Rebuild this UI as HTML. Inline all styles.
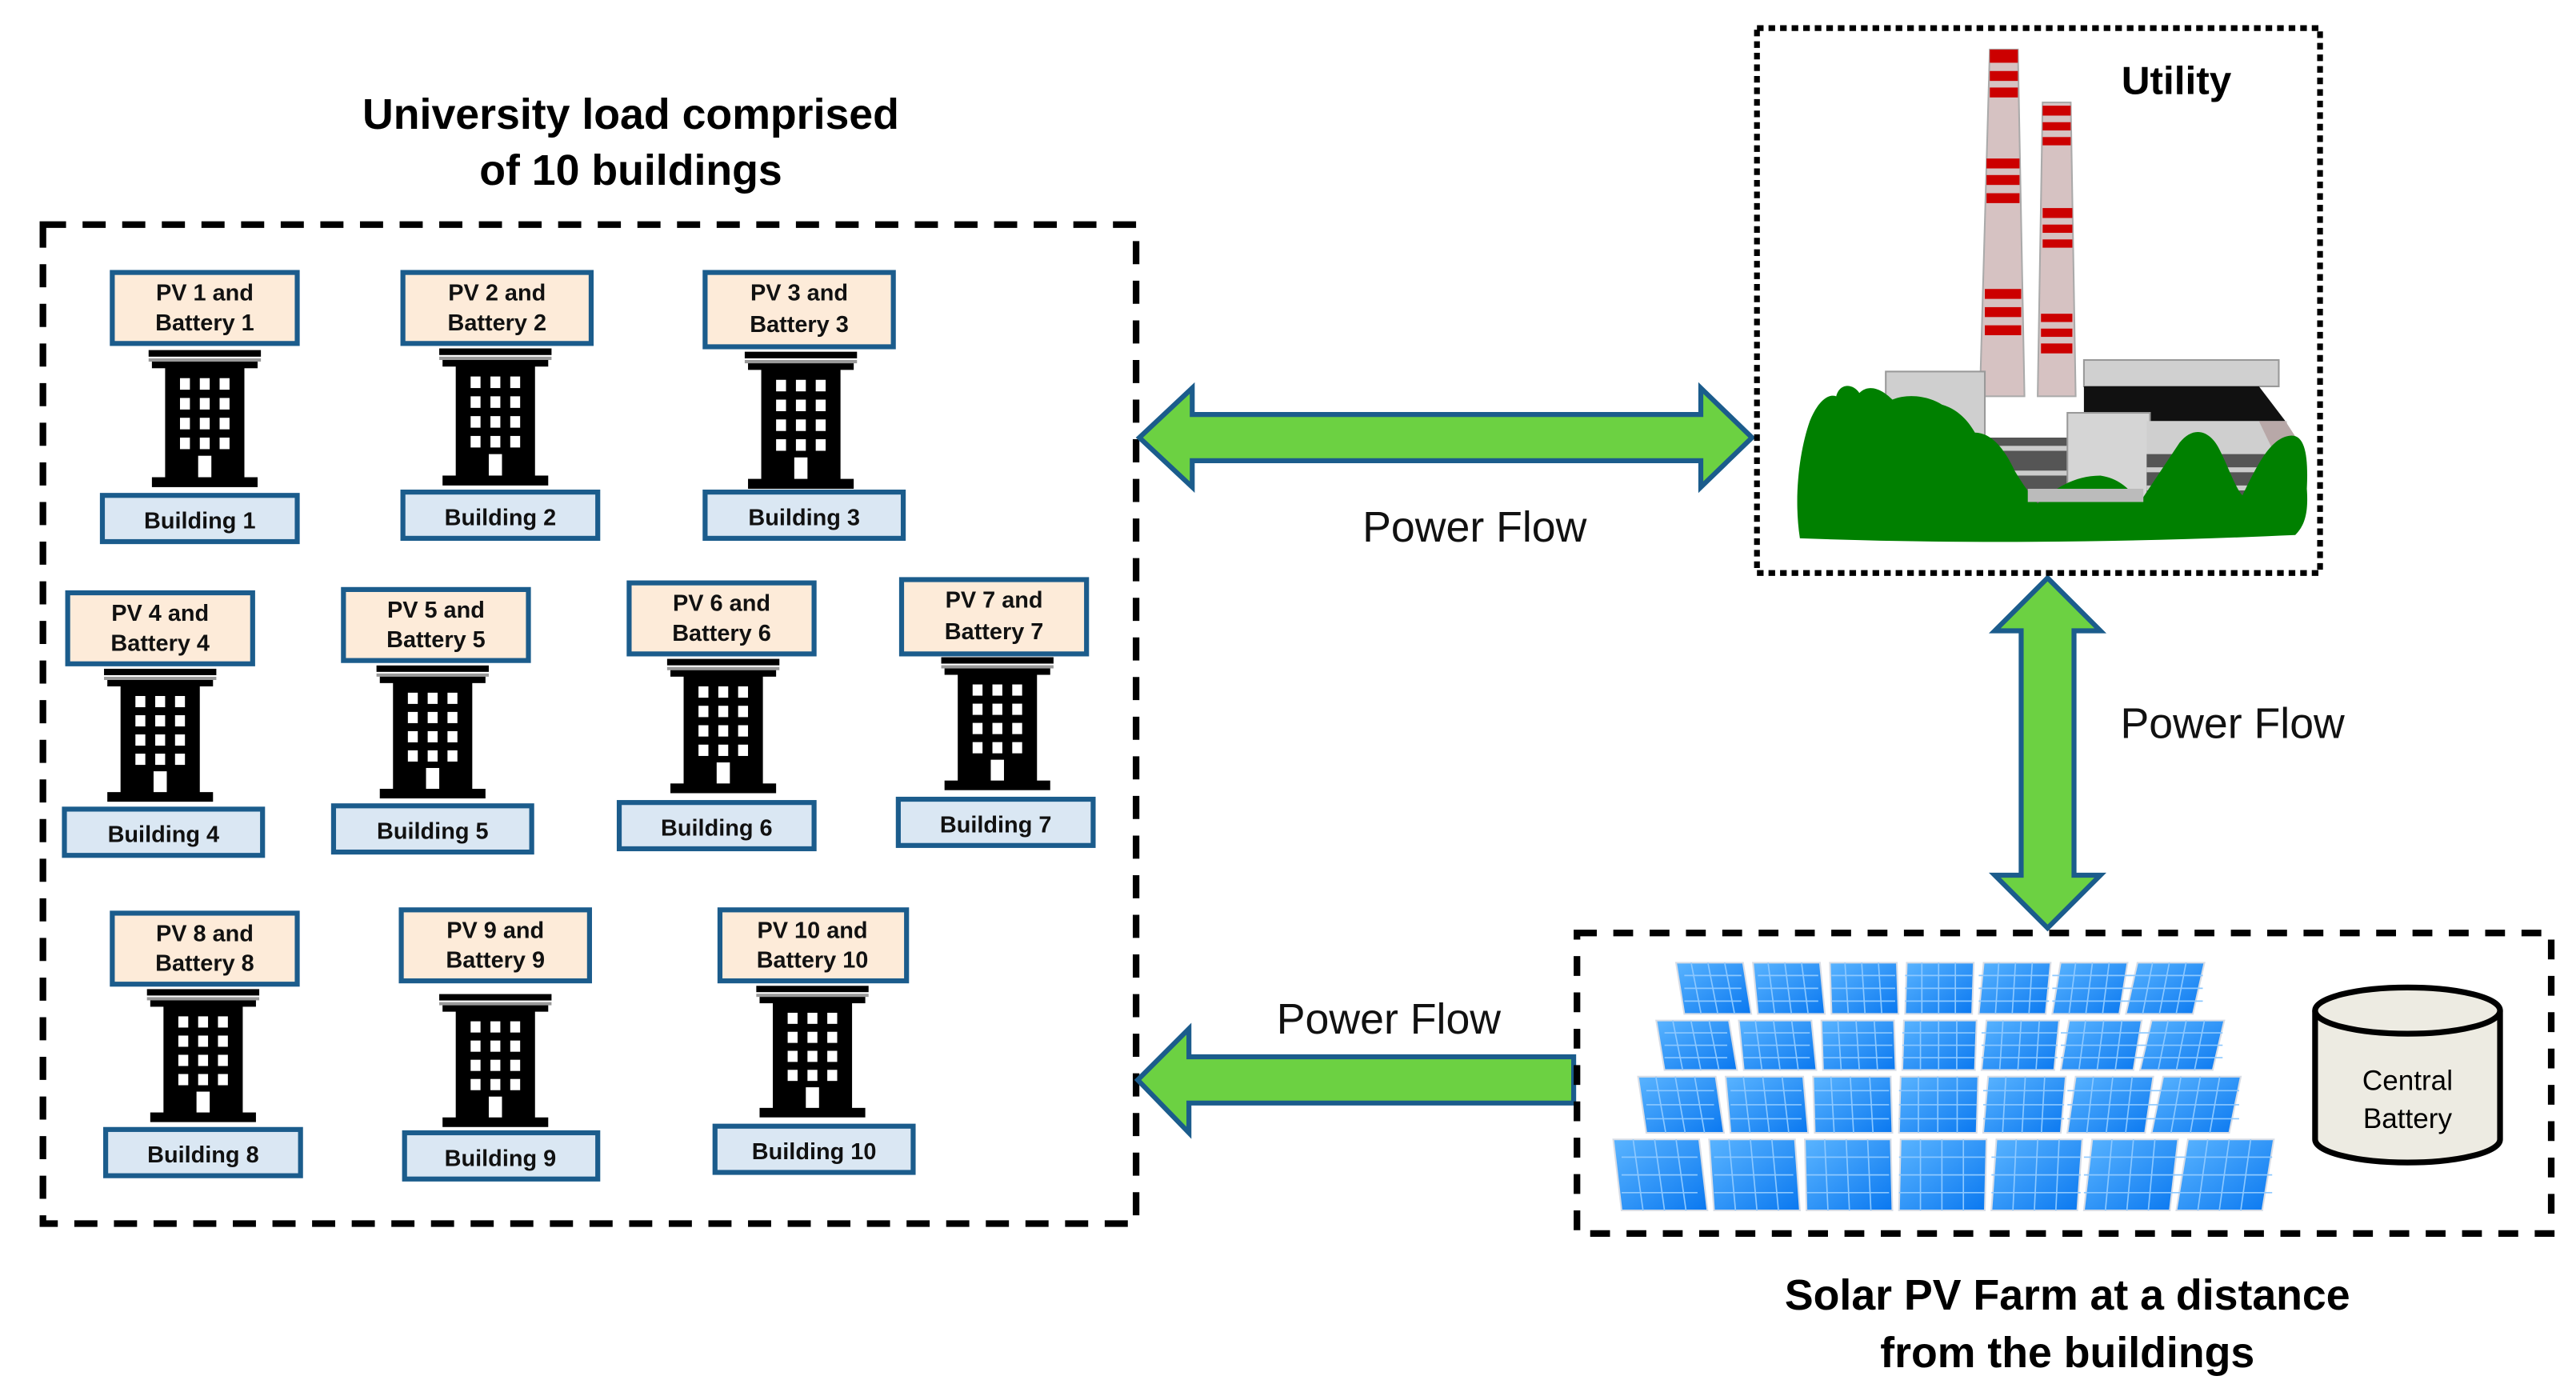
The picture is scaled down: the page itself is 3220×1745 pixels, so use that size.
<!DOCTYPE html>
<html><head><meta charset="utf-8"><style>
html,body{margin:0;padding:0;background:#fff}
svg{display:block}
text{font-family:"Liberation Sans",Arial,sans-serif}
</style></head><body>
<svg width="3220" height="1745" viewBox="0 0 1560 845.4" xmlns="http://www.w3.org/2000/svg">
<defs>
<g id="bld">
<rect x="0" y="0" width="68" height="4" fill="#000"/>
<rect x="0" y="5" width="68" height="2" fill="#999"/>
<rect x="2" y="7" width="64" height="4" fill="#000"/>
<rect x="10" y="10" width="48" height="70" fill="#000"/>
<rect x="2" y="77" width="64" height="6" fill="#000"/>
<g fill="#fff">
<rect x="19" y="17" width="6" height="7"/><rect x="31" y="17" width="6" height="7"/><rect x="43" y="17" width="6" height="7"/>
<rect x="19" y="29" width="6" height="7"/><rect x="31" y="29" width="6" height="7"/><rect x="43" y="29" width="6" height="7"/>
<rect x="19" y="41" width="6" height="7"/><rect x="31" y="41" width="6" height="7"/><rect x="43" y="41" width="6" height="7"/>
<rect x="19" y="53" width="6" height="7"/><rect x="31" y="53" width="6" height="7"/><rect x="43" y="53" width="6" height="7"/>
<rect x="30" y="64" width="8" height="13"/>
</g>
</g>
</defs>

<text x="382" y="78" font-size="26" font-weight="bold" text-anchor="middle">University load comprised</text>
<text x="382" y="112" font-size="26" font-weight="bold" text-anchor="middle">of 10 buildings</text>
<rect x="26" y="136" width="662" height="605" fill="none" stroke="#000" stroke-width="4" stroke-dasharray="14,10"/>

<g font-size="14" font-weight="bold" text-anchor="middle" fill="#111">
<rect x="68" y="165" width="112" height="43" fill="#fdebd9" stroke="#1b5c8c" stroke-width="3"/>
<text x="124" y="182">PV 1 and</text><text x="124" y="200">Battery 1</text>
<use href="#bld" transform="translate(90,212)"/>
<rect x="62" y="300" width="118" height="28" fill="#dae7f3" stroke="#1b5c8c" stroke-width="3"/>
<text x="121" y="320">Building 1</text>
<rect x="244" y="165" width="114" height="43" fill="#fdebd9" stroke="#1b5c8c" stroke-width="3"/>
<text x="301" y="182">PV 2 and</text><text x="301" y="200">Battery 2</text>
<use href="#bld" transform="translate(266,211)"/>
<rect x="244" y="298" width="118" height="28" fill="#dae7f3" stroke="#1b5c8c" stroke-width="3"/>
<text x="303" y="318">Building 2</text>
<rect x="427" y="165" width="114" height="45" fill="#fdebd9" stroke="#1b5c8c" stroke-width="3"/>
<text x="484" y="182">PV 3 and</text><text x="484" y="201">Battery 3</text>
<use href="#bld" transform="translate(451,213)"/>
<rect x="427" y="298" width="120" height="28" fill="#dae7f3" stroke="#1b5c8c" stroke-width="3"/>
<text x="487" y="318">Building 3</text>
<rect x="41" y="359" width="112" height="43" fill="#fdebd9" stroke="#1b5c8c" stroke-width="3"/>
<text x="97" y="376">PV 4 and</text><text x="97" y="394">Battery 4</text>
<use href="#bld" transform="translate(63,405) scale(1,0.97)"/>
<rect x="39" y="490" width="120" height="28" fill="#dae7f3" stroke="#1b5c8c" stroke-width="3"/>
<text x="99" y="510">Building 4</text>
<rect x="208" y="357" width="112" height="43" fill="#fdebd9" stroke="#1b5c8c" stroke-width="3"/>
<text x="264" y="374">PV 5 and</text><text x="264" y="392">Battery 5</text>
<use href="#bld" transform="translate(228,403) scale(1,0.97)"/>
<rect x="202" y="488" width="120" height="28" fill="#dae7f3" stroke="#1b5c8c" stroke-width="3"/>
<text x="262" y="508">Building 5</text>
<rect x="381" y="353" width="112" height="43" fill="#fdebd9" stroke="#1b5c8c" stroke-width="3"/>
<text x="437" y="370">PV 6 and</text><text x="437" y="388">Battery 6</text>
<use href="#bld" transform="translate(404,399) scale(1,0.98)"/>
<rect x="375" y="486" width="118" height="28" fill="#dae7f3" stroke="#1b5c8c" stroke-width="3"/>
<text x="434" y="506">Building 6</text>
<rect x="546" y="351" width="112" height="45" fill="#fdebd9" stroke="#1b5c8c" stroke-width="3"/>
<text x="602" y="368">PV 7 and</text><text x="602" y="387">Battery 7</text>
<use href="#bld" transform="translate(570,398) scale(1,0.97)"/>
<rect x="544" y="484" width="118" height="28" fill="#dae7f3" stroke="#1b5c8c" stroke-width="3"/>
<text x="603" y="504">Building 7</text>
<rect x="68" y="553" width="112" height="43" fill="#fdebd9" stroke="#1b5c8c" stroke-width="3"/>
<text x="124" y="570">PV 8 and</text><text x="124" y="588">Battery 8</text>
<use href="#bld" transform="translate(89,599) scale(1,0.97)"/>
<rect x="64" y="684" width="118" height="28" fill="#dae7f3" stroke="#1b5c8c" stroke-width="3"/>
<text x="123" y="704">Building 8</text>
<rect x="243" y="551" width="114" height="43" fill="#fdebd9" stroke="#1b5c8c" stroke-width="3"/>
<text x="300" y="568">PV 9 and</text><text x="300" y="586">Battery 9</text>
<use href="#bld" transform="translate(266,602) scale(1,0.97)"/>
<rect x="245" y="686" width="117" height="28" fill="#dae7f3" stroke="#1b5c8c" stroke-width="3"/>
<text x="303" y="706">Building 9</text>
<rect x="436" y="551" width="113" height="43" fill="#fdebd9" stroke="#1b5c8c" stroke-width="3"/>
<text x="492" y="568">PV 10 and</text><text x="492" y="586">Battery 10</text>
<use href="#bld" transform="translate(458,597) scale(1,0.96)"/>
<rect x="433" y="682" width="120" height="28" fill="#dae7f3" stroke="#1b5c8c" stroke-width="3"/>
<text x="493" y="702">Building 10</text>
</g>

<g fill="#6cd142" stroke="#1b5c8c" stroke-width="3" stroke-linejoin="miter">
<polygon points="690,265 722,235 722,251 1030,251 1030,235 1061,265 1030,295 1030,279 722,279 722,295"/>
<polygon points="1240,350 1272,382 1256,382 1256,530 1272,530 1240,562 1208,530 1224,530 1224,382 1208,382"/>
<polygon points="689,654 720,623 720,640 953,640 953,668 720,668 720,686"/>
</g>
<g font-size="26" fill="#111">
<text x="893" y="328" text-anchor="middle">Power Flow</text>
<text x="1352" y="447" text-anchor="middle">Power Flow</text>
<text x="841" y="626" text-anchor="middle">Power Flow</text>
</g>

<rect x="1064" y="17" width="341" height="330" fill="none" stroke="#000" stroke-width="3.5" stroke-dasharray="4,3"/>
<text x="1318" y="57" font-size="24" font-weight="bold" text-anchor="middle">Utility</text>
<polygon points="1205,30 1222,30 1226,240 1199,240" fill="#d6c2c2" stroke="#aaa" stroke-width="1"/>
<polygon points="1237,62 1254,62 1257,240 1234,240" fill="#d6c2c2" stroke="#aaa" stroke-width="1"/>
<g fill="#cc0000">
<rect x="1205" y="30" width="17" height="8"/><rect x="1205" y="43" width="17" height="6"/><rect x="1205" y="53" width="17" height="6"/>
<rect x="1203" y="96" width="20" height="6"/><rect x="1203" y="106" width="20" height="6"/><rect x="1203" y="117" width="20" height="6"/>
<rect x="1202" y="175" width="22" height="6"/><rect x="1202" y="186" width="22" height="6"/><rect x="1202" y="197" width="22" height="6"/>
<rect x="1237" y="64" width="17" height="6"/><rect x="1237" y="74" width="17" height="5"/><rect x="1237" y="83" width="17" height="5"/>
<rect x="1237" y="126" width="18" height="6"/><rect x="1237" y="136" width="18" height="5"/><rect x="1237" y="145" width="18" height="5"/>
<rect x="1236" y="190" width="19" height="5"/><rect x="1236" y="199" width="19" height="5"/><rect x="1236" y="208" width="19" height="6"/>
</g>
<rect x="1142" y="225" width="60" height="50" fill="#cfcfcf" stroke="#999"/>
<rect x="1176" y="265" width="90" height="40" fill="#555"/>
<rect x="1176" y="270" width="90" height="3" fill="#ccc"/><rect x="1176" y="285" width="90" height="3" fill="#ccc"/>
<rect x="1262" y="218" width="118" height="16" fill="#d0d0d0" stroke="#999"/>
<polygon points="1262,234 1368,234 1384,255 1262,255" fill="#111"/>
<rect x="1252" y="250" width="50" height="70" fill="#d5d5d5" stroke="#999"/>
<rect x="1300" y="255" width="85" height="55" fill="#cfcfcf"/>
<rect x="1300" y="275" width="85" height="30" fill="#555"/>
<rect x="1300" y="283" width="85" height="3" fill="#ccc"/><rect x="1300" y="294" width="85" height="3" fill="#ccc"/>
<polygon points="1368,255 1384,255 1395,272 1380,280" fill="#b8a8a8"/>
<path d="M1090,326 C1086,300 1090,272 1096,255 C1100,245 1106,238 1112,240 C1114,232 1122,232 1126,238 C1132,232 1140,236 1146,242 C1156,238 1168,240 1176,245 C1186,248 1192,255 1196,262 C1206,262 1214,272 1220,285 C1226,295 1230,300 1234,305 C1244,296 1256,288 1272,288 C1286,290 1292,300 1296,304 C1304,292 1312,280 1320,268 C1328,258 1338,260 1344,272 C1350,284 1354,296 1358,300 C1366,284 1374,266 1386,264 C1396,262 1398,276 1397,296 C1398,310 1396,318 1390,324 C1300,328 1200,330 1090,326 Z" fill="#008000"/>
<rect x="1228" y="296" width="70" height="8" fill="#bbb"/>

<rect x="955" y="565" width="590" height="182" fill="none" stroke="#000" stroke-width="4" stroke-dasharray="12,10"/>
<defs>
<linearGradient id="pg" x1="0" y1="0" x2="1" y2="1">
<stop offset="0" stop-color="#5ab4ff"/><stop offset="1" stop-color="#0a78f0"/>
</linearGradient>
</defs>
<g id="panels"></g>
<path d="M1402,612 L1402,690 A56,14 0 0 0 1514,690 L1514,612" fill="#edebe2" stroke="#000" stroke-width="3.5"/>
<ellipse cx="1458" cy="612" rx="56" ry="14" fill="#edebe2" stroke="#000" stroke-width="3.5"/>
<text x="1458" y="660" font-size="17" text-anchor="middle">Central</text>
<text x="1458" y="683" font-size="17" text-anchor="middle">Battery</text>

<text x="1252" y="793" font-size="26" font-weight="bold" text-anchor="middle">Solar PV Farm at a distance</text>
<text x="1252" y="828" font-size="26" font-weight="bold" text-anchor="middle">from the buildings</text>
</svg>
<script>
var g=document.getElementById('panels'),s='';
var rows=[[583,614,1018,1330],[618,648,1006,1342],[652,686,995,1352],[690,733,980,1372]];
rows.forEach(function(r){
 var tw=(r[3]-r[2])/7;
 for(var i=0;i<7;i++){
  var x=r[2]+i*tw+2,w=tw-4;
  var sk=(i-3)*2;
  var pts=(x+sk+1)+','+r[0]+' '+(x+w+sk+1)+','+r[0]+' '+(x+w)+','+r[1]+' '+x+','+r[1];
  s+='<polygon points="'+pts+'" fill="url(#pg)" stroke="#d8dde6" stroke-width="1"/>';
  for(var k=1;k<4;k++){var xx=x+w*k/4;s+='<line x1="'+(xx+sk)+'" y1="'+r[0]+'" x2="'+xx+'" y2="'+r[1]+'" stroke="#8cc8ff" stroke-width="0.8"/>';}
  for(var k=1;k<4;k++){var yy=r[0]+(r[1]-r[0])*k/4;s+='<line x1="'+x+'" y1="'+yy+'" x2="'+(x+w+sk)+'" y2="'+yy+'" stroke="#8cc8ff" stroke-width="0.8"/>';}
 }
});
g.innerHTML=s;
</script>
</body></html>
